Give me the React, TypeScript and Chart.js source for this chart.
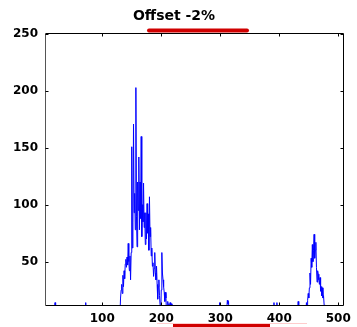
import React, { useEffect, useRef } from "react";
import { Chart, registerables } from "chart.js";

Chart.register(...registerables);

const titleText = "Offset -2%";
const pointCount = 512;
const xMin = 3;
const xMax = 510;
const yMin = 11;
const yMax = 251;
const xTicks = [100, 200, 300, 400, 500];
const yTicks = [50, 100, 150, 200, 250];

// main cluster, values for indices 128..221
const mainStart = 128;
const mainValues = [
  0, 0, 3, 18, 25, 30, 22, 38, 28, 42, 35, 48, 52, 45, 54, 47, 66, 50, 42, 55,
  34, 58, 151, 62, 84, 171, 93, 110, 78, 203, 90, 63, 120, 95, 142, 78, 120, 88, 160, 72,
  100, 85, 119, 80, 93, 65, 93, 70, 101, 75, 92, 60, 107, 72, 80, 55, 62, 46, 49, 37,
  44, 58, 40, 34, 46, 30, 17, 28, 34, 20, 12, 0, 25, 58, 40, 34, 28, 23, 15, 23,
  18, 0, 8, 15, 10, 13, 8, 14, 10, 13, 8, 12, 5, 0,
];

// right cluster, values for indices 444..477
const rightStart = 444;
const rightValues = [
  0, 5, 14, 10, 16, 22, 18, 27, 40, 30, 53, 45, 65, 50, 60, 74, 53, 60, 67, 45,
  32, 42, 39, 34, 30, 36, 24, 28, 20, 27, 18, 20, 12, 0,
];

// isolated small spikes
const spikeIndex = [20, 72, 299, 312, 313, 314, 391, 396, 432];
const spikeValues = [14, 14, 14, 16, 13, 15, 14, 14, 15];

const tickFont = { family: "DejaVu Sans", size: 12, weight: "bold" as const };

const framePlugin = {
  id: "frame",
  afterDraw(chart: any) {
    const { ctx, chartArea, scales } = chart;
    const { left, right, top, bottom } = chartArea;
    ctx.save();
    ctx.lineWidth = 1;
    const l = Math.round(left) + 0.5;
    const r = Math.round(right) - 0.5;
    const t = Math.round(top) + 0.5;
    const b = Math.round(bottom) - 0.5;
    ctx.strokeStyle = "#000";
    ctx.beginPath();
    ctx.moveTo(l, t);
    ctx.lineTo(r, t);
    ctx.lineTo(r, b);
    ctx.lineTo(l, b);
    ctx.stroke();
    ctx.strokeStyle = "#555";
    ctx.beginPath();
    ctx.moveTo(l, t);
    ctx.lineTo(l, b);
    ctx.stroke();
    ctx.strokeStyle = "#000";
    ctx.beginPath();
    for (const v of xTicks) {
      const px = Math.round(scales.x.getPixelForValue(v)) + 0.5;
      ctx.moveTo(px, b);
      ctx.lineTo(px, b - 3);
      ctx.moveTo(px, t);
      ctx.lineTo(px, t + 3);
    }
    for (const v of yTicks) {
      const py = Math.round(scales.y.getPixelForValue(v)) + 0.5;
      ctx.moveTo(l, py);
      ctx.lineTo(l + 3, py);
      ctx.moveTo(r, py);
      ctx.lineTo(r - 3, py);
    }
    ctx.stroke();
    // red underline marks
    ctx.strokeStyle = "#d00000";
    ctx.lineCap = "round";
    ctx.lineWidth = 4;
    ctx.beginPath();
    ctx.moveTo(149, 30.5);
    ctx.lineTo(247, 30.5);
    ctx.stroke();
    ctx.fillStyle = "rgba(255,170,170,0.6)";
    ctx.fillRect(157, 323, 150, 1);
    ctx.fillStyle = "#d00000";
    ctx.fillRect(173, 324, 97, 3);
    ctx.restore();
  },
};

export default function App() {
  const ref = useRef<HTMLCanvasElement>(null);
  useEffect(() => {
    const values = new Array(pointCount + 1).fill(0);
    mainValues.forEach((v, i) => (values[mainStart + i] = v));
    rightValues.forEach((v, i) => (values[rightStart + i] = v));
    spikeIndex.forEach((idx, i) => (values[idx] = spikeValues[i]));
    const points = [] as { x: number; y: number }[];
    for (let i = 1; i <= pointCount; i++) points.push({ x: i, y: values[i] });

    const chart = new Chart(ref.current!, {
      type: "line",
      data: {
        datasets: [
          {
            data: points,
            borderColor: "#0000ff",
            borderWidth: 1,
            pointRadius: 0,
            tension: 0,
            fill: false,
          },
        ],
      },
      options: {
        animation: false,
        responsive: false,
        devicePixelRatio: 1,
        layout: { padding: { left: 0, right: 9, top: 0, bottom: 0 } },
        plugins: {
          legend: { display: false },
          tooltip: { enabled: false },
          title: {
            display: true,
            text: titleText,
            color: "#000",
            font: { family: "DejaVu Sans", size: 14, weight: "bold" },
            padding: { top: 8, bottom: 8.2 },
          },
        },
        scales: {
          x: {
            type: "linear",
            min: xMin,
            max: xMax,
            afterBuildTicks: (s: any) => {
              s.ticks = xTicks.map((v) => ({ value: v }));
            },
            afterFit: (s: any) => {
              s.height = 21;
            },
            grid: { display: false, drawTicks: false },
            border: { display: false },
            ticks: {
              padding: 6,
              color: "#000",
              font: tickFont,
              maxRotation: 0,
              autoSkip: false,
            },
          },
          y: {
            type: "linear",
            min: yMin,
            max: yMax,
            afterBuildTicks: (s: any) => {
              s.ticks = yTicks.map((v) => ({ value: v }));
            },
            afterFit: (s: any) => {
              s.width = 45;
            },
            grid: { display: false, drawTicks: false },
            border: { display: false },
            ticks: {
              padding: 7,
              color: "#000",
              font: tickFont,
              autoSkip: false,
            },
          },
        },
      },
      plugins: [framePlugin],
    });
    return () => chart.destroy();
  }, []);

  return (
    <div style={{ position: "fixed", left: 0, top: 0, width: 357, height: 327, background: "#fff" }}>
      <canvas ref={ref} width={357} height={327} style={{ width: 357, height: 327, display: "block" }} />
    </div>
  );
}
